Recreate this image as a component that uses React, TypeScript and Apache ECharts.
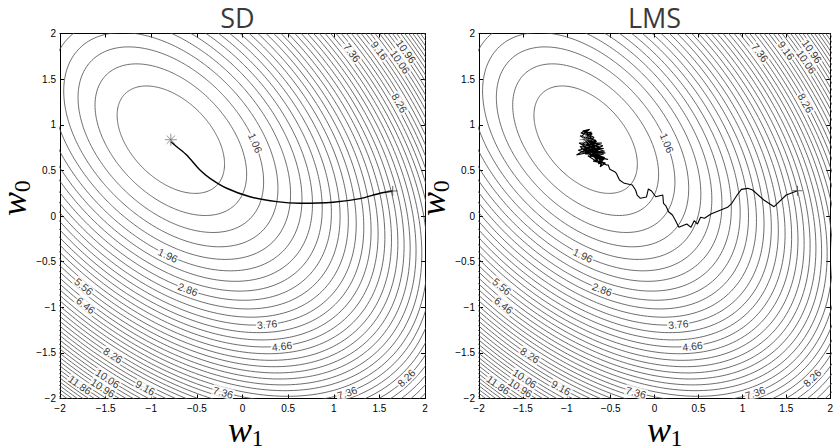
import React, { useEffect, useRef } from "react";
import * as echarts from "echarts";

// Wiener problem behind the error surface J(w) = sigma_d^2 - 2 p'w + w'Rw
const SIGMA_D2 = 0.9486;
const P0 = 0.5272; // cross-correlation for w0
const P1 = -0.4458; // cross-correlation for w1
const R00 = 1.1;
const R01 = 0.5;
const R11 = 1.1;

const CONTOUR_LEVELS = [
  0.46, 0.76, 1.06, 1.36, 1.66, 1.96, 2.26, 2.56, 2.86, 3.16, 3.46, 3.76, 4.06, 4.36, 4.66, 4.96,
  5.26, 5.56, 5.86, 6.16, 6.46, 6.76, 7.06, 7.36, 7.66, 7.96, 8.26, 8.56, 8.86, 9.16, 9.46, 9.76,
  10.06, 10.36, 10.66, 10.96, 11.26, 11.56, 11.86, 12.16, 12.46, 12.76, 13.06, 13.36, 13.66, 13.96,
];

const AXIS_TICKS = [-2, -1.5, -1, -0.5, 0, 0.5, 1, 1.5, 2];

// inline contour labels: [w1, w0, level]
const CONTOUR_LABELS: [number, number, number][] = [
  [0.115, 0.8, 1.06],
  [-0.816, -0.44, 1.96],
  [-0.597, -0.82, 2.86],
  [0.28, -1.21, 3.76],
  [0.44, -1.44, 4.66],
  [-1.75, -0.79, 5.56],
  [-1.73, -1.0, 6.46],
  [1.2, 1.79, 7.36],
  [1.47, 1.8, 9.16],
  [1.7, 1.68, 10.06],
  [1.76, 1.79, 10.96],
  [1.73, 1.24, 8.26],
  [-1.43, -1.56, 8.26],
  [-1.07, -1.91, 9.16],
  [-0.21, -1.94, 7.36],
  [1.14, -1.93, 7.36],
  [1.81, -1.79, 8.26],
  [-1.49, -1.82, 10.06],
  [-1.53, -1.88, 10.96],
  [-1.78, -1.85, 11.86],
];

// steepest-descent trajectory (w1, w0)
const SD_W1 = [1.646, 1.507, 1.288, 0.992, 0.63, 0.375, 0.082, -0.173, -0.356, -0.466, -0.612, -0.721, -0.787];
const SD_W0 = [0.274, 0.249, 0.19, 0.15, 0.139, 0.157, 0.211, 0.304, 0.413, 0.504, 0.668, 0.759, 0.814];

// LMS trajectory, descent part (w1, w0)
const LMS_DESCENT_W1 = [
  1.627, 1.499, 1.361, 1.244, 1.116, 1.061, 0.988, 0.94, 0.879, 0.831, 0.641, 0.568, 0.524, 0.488, 0.451,
  0.414, 0.367, 0.276, 0.239, 0.203, 0.159, 0.129, 0.101, 0.093, 0.013, -0.035, -0.071, -0.093, -0.162,
  -0.199, -0.217, -0.254, -0.345, -0.4, -0.436, -0.455, -0.51, -0.528,
];
const LMS_DESCENT_W0 = [
  0.277, 0.23, 0.102, 0.175, 0.285, 0.303, 0.292, 0.23, 0.139, 0.095, 0.022, -0.025, -0.014, -0.088, -0.051,
  -0.124, -0.088, -0.124, -0.051, 0.011, 0.047, 0.11, 0.139, 0.23, 0.211, 0.274, 0.296, 0.208, 0.194,
  0.23, 0.285, 0.34, 0.358, 0.395, 0.468, 0.486, 0.512, 0.559,
];
// LMS trajectory, jitter around the optimum (w1, w0)
const LMS_CLUSTER_W1 = [
  -0.55, -0.63, -0.57, -0.66, -0.6, -0.7, -0.63, -0.74, -0.67, -0.78, -0.71, -0.82, -0.74,
  -0.8, -0.72, -0.79, -0.69, -0.75, -0.64, -0.71, -0.6, -0.67, -0.56, -0.62,
  -0.59, -0.68, -0.62, -0.72, -0.65, -0.76, -0.69, -0.8, -0.73, -0.84, -0.77,
  -0.83, -0.75, -0.82, -0.73, -0.8, -0.89, -0.78, -0.7, -0.64, -0.7, -0.6,
  -0.66, -0.58, -0.68, -0.61, -0.71, -0.65, -0.75, -0.69, -0.78, -0.72,
  -0.77, -0.7, -0.76, -0.67, -0.74, -0.63, -0.69, -0.58, -0.64,
  -0.61, -0.69, -0.64, -0.73, -0.68, -0.77, -0.71, -0.66, -0.72,
  -0.85, -0.58, -0.83, -0.57, -0.8, -0.6, -0.86, -0.62, -0.84, -0.56, -0.79,
  -0.59, -0.82, -0.64, -0.87, -0.53, -0.76, -0.6, -0.81, -0.66, -0.85, -0.7,
  -0.76, -0.68, -0.74, -0.7,
];
const LMS_CLUSTER_W0 = [
  0.56, 0.6, 0.64, 0.67, 0.7, 0.72, 0.76, 0.79, 0.83, 0.86, 0.9, 0.93, 0.95,
  0.9, 0.86, 0.82, 0.79, 0.74, 0.71, 0.68, 0.65, 0.61, 0.58, 0.54,
  0.62, 0.64, 0.69, 0.7, 0.74, 0.77, 0.81, 0.84, 0.88, 0.91, 0.94,
  0.87, 0.83, 0.79, 0.76, 0.72, 0.67, 0.69, 0.66, 0.63, 0.6, 0.58,
  0.66, 0.68, 0.73, 0.74, 0.78, 0.8, 0.82, 0.86, 0.91, 0.92,
  0.86, 0.84, 0.79, 0.77, 0.72, 0.68, 0.66, 0.62, 0.57,
  0.63, 0.7, 0.72, 0.75, 0.79, 0.8, 0.75, 0.7, 0.66,
  0.76, 0.74, 0.7, 0.71, 0.78, 0.8, 0.8, 0.66, 0.74, 0.69, 0.68,
  0.77, 0.84, 0.78, 0.72, 0.62, 0.66, 0.56, 0.76, 0.82, 0.88, 0.8,
  0.78, 0.72, 0.76, 0.74,
];

const PANEL_TITLES = ["SD", "LMS"];

// ---------- derived quantities ----------
const DET = R00 * R11 - R01 * R01;
const W0_OPT = (R11 * P0 - R01 * P1) / DET;
const W1_OPT = (R00 * P1 - R01 * P0) / DET;
const J_MIN = SIGMA_D2 - (P0 * W0_OPT + P1 * W1_OPT);

function quad(d1: number, d0: number) {
  return R11 * d1 * d1 + 2 * R01 * d1 * d0 + R00 * d0 * d0;
}

function contour(level: number): [number, number][] {
  const pts: [number, number][] = [];
  for (let deg = 0; deg <= 360; deg += 1) {
    const t = (deg * Math.PI) / 180;
    const c = Math.cos(t);
    const s = Math.sin(t);
    const r = Math.sqrt((level - J_MIN) / quad(c, s));
    pts.push([W1_OPT + r * c, W0_OPT + r * s]);
  }
  return pts;
}

function labelItem(w1: number, w0: number, level: number) {
  const d1 = w1 - W1_OPT;
  const d0 = w0 - W0_OPT;
  const k = Math.sqrt((level - J_MIN) / quad(d1, d0));
  const e1 = d1 * k;
  const e0 = d0 * k;
  const g1 = R11 * e1 + R01 * e0;
  const g0 = R01 * e1 + R00 * e0;
  let ang = (Math.atan2(-g1, g0) * 180) / Math.PI;
  if (ang > 90) ang -= 180;
  if (ang < -90) ang += 180;
  return {
    name: level.toFixed(2),
    value: [W1_OPT + e1, W0_OPT + e0],
    label: { rotate: ang },
  };
}

const GRID_LEFTS = [60, 479];
const GRID_TOP = 33.5;
const GRID_SIZE = 365;

const tickFmt = (v: number) => (v < 0 ? "\u2212" + String(-v) : String(v));

function textEl(x: number, y: number, text: string, font: string, lineHeight: number, rotation = 0, fill = "#000") {
  return {
    type: "text",
    x,
    y,
    rotation,
    silent: true,
    style: {
      text,
      font,
      fill,
      lineHeight,
      align: "center",
      textAlign: "center",
      verticalAlign: "middle",
      textVerticalAlign: "middle",
    },
  };
}

function buildOption() {
  const xAxis: any[] = [];
  const yAxis: any[] = [];
  const series: any[] = [];
  const graphic: any[] = [];
  const axisBase = {
    type: "value",
    min: AXIS_TICKS[0],
    max: AXIS_TICKS[AXIS_TICKS.length - 1],
    interval: AXIS_TICKS[1] - AXIS_TICKS[0],
    axisLine: { show: true, onZero: false, lineStyle: { color: "#000", width: 1 } },
    axisTick: { show: true, inside: true, length: 4, lineStyle: { color: "#000", width: 1 } },
    splitLine: { show: false },
  };
  const labelStyle = {
    color: "#000",
    fontSize: 10,
    fontFamily: "Liberation Sans",
    formatter: tickFmt,
    showMinLabel: true,
    showMaxLabel: true,
  };

  const lmsW1 = LMS_DESCENT_W1.concat(LMS_CLUSTER_W1);
  const lmsW0 = LMS_DESCENT_W0.concat(LMS_CLUSTER_W0);

  GRID_LEFTS.forEach((left, g) => {
    xAxis.push({ ...axisBase, gridIndex: g, position: "bottom", axisLabel: { ...labelStyle, margin: 5 } });
    xAxis.push({ ...axisBase, gridIndex: g, position: "top", axisLabel: { show: false } });
    yAxis.push({ ...axisBase, gridIndex: g, position: "left", axisLabel: { ...labelStyle, margin: 4 } });
    yAxis.push({ ...axisBase, gridIndex: g, position: "right", axisLabel: { show: false } });

    const xi = 2 * g;
    const yi = 2 * g;

    CONTOUR_LEVELS.forEach((L) => {
      series.push({
        type: "line",
        xAxisIndex: xi,
        yAxisIndex: yi,
        data: contour(L),
        symbol: "none",
        showSymbol: false,
        clip: true,
        silent: true,
        z: 1,
        lineStyle: { color: "#474747", width: 0.8 },
      });
    });

    series.push({
      type: "scatter",
      xAxisIndex: xi,
      yAxisIndex: yi,
      silent: true,
      z: 3,
      symbolSize: 1,
      itemStyle: { color: "rgba(0,0,0,0)" },
      label: {
        show: true,
        position: "inside",
        formatter: "{b}",
        fontSize: 10.5,
        fontFamily: "Liberation Sans",
        color: "#000",
        backgroundColor: "#fff",
        padding: [0, 1],
      },
      data: CONTOUR_LABELS.map(([a, b, L]) => labelItem(a, b, L)),
    });

    const pw1 = g === 0 ? SD_W1 : lmsW1;
    const pw0 = g === 0 ? SD_W0 : lmsW0;
    series.push({
      type: "line",
      xAxisIndex: xi,
      yAxisIndex: yi,
      data: pw1.map((v, i) => [v, pw0[i]]),
      symbol: "none",
      showSymbol: false,
      smooth: g === 0 ? 0.3 : false,
      silent: true,
      z: 5,
      lineStyle: { color: "#000", width: g === 0 ? 1.4 : 1.1 },
    });
    // start marker
    series.push({
      type: "scatter",
      xAxisIndex: xi,
      yAxisIndex: yi,
      silent: true,
      z: 6,
      symbol: "path://M0,-1L0,1M-1,0L1,0",
      symbolSize: 10,
      itemStyle: { color: "none", borderColor: "#444", borderWidth: 1 },
      data: [[pw1[0], pw0[0]]],
    });
    // optimum marker
    series.push({
      type: "scatter",
      xAxisIndex: xi,
      yAxisIndex: yi,
      silent: true,
      z: 6,
      symbol: "path://M0,-1L0,1M-1,0L1,0M-0.7,-0.7L0.7,0.7M-0.7,0.7L0.7,-0.7",
      symbolSize: 12,
      itemStyle: { color: "none", borderColor: "#777", borderWidth: 1 },
      data: [[W1_OPT, W0_OPT]],
    });

    const dx = left - GRID_LEFTS[0];
    graphic.push(textEl(237.5 + dx - (g === 1 ? 2 : 0), 17, PANEL_TITLES[g], '27px "Open Sans"', 22, 0, "#3a3a3a"));
    // x axis name w_1
    graphic.push(textEl(240 + dx, 430, "w", 'italic 36px "Liberation Serif"', 20));
    graphic.push(textEl(257.5 + dx, 438, "1", '24px "Liberation Serif"', 16));
    // y axis name w_0 (rotated)
    graphic.push(textEl(14 + dx, 204, "w", 'italic 36px "Liberation Serif"', 20, Math.PI / 2));
    graphic.push(textEl(22.3 + dx, 186.3, "0", '24px "Liberation Serif"', 16, Math.PI / 2));
  });

  return {
    animation: false,
    backgroundColor: "#fff",
    grid: GRID_LEFTS.map((left) => ({
      left,
      top: GRID_TOP,
      width: GRID_SIZE,
      height: GRID_SIZE,
      show: false,
      containLabel: false,
    })),
    xAxis,
    yAxis,
    series,
    graphic,
  };
}

export default function App() {
  const ref = useRef<HTMLDivElement>(null);
  useEffect(() => {
    if (!ref.current) return;
    const chart = echarts.init(ref.current, undefined, { renderer: "svg" });
    chart.setOption(buildOption() as any);
    return () => chart.dispose();
  }, []);
  return (
    <div
      ref={ref}
      style={{ position: "absolute", left: 0, top: 0, width: 836, height: 448, background: "#fff" }}
    />
  );
}
